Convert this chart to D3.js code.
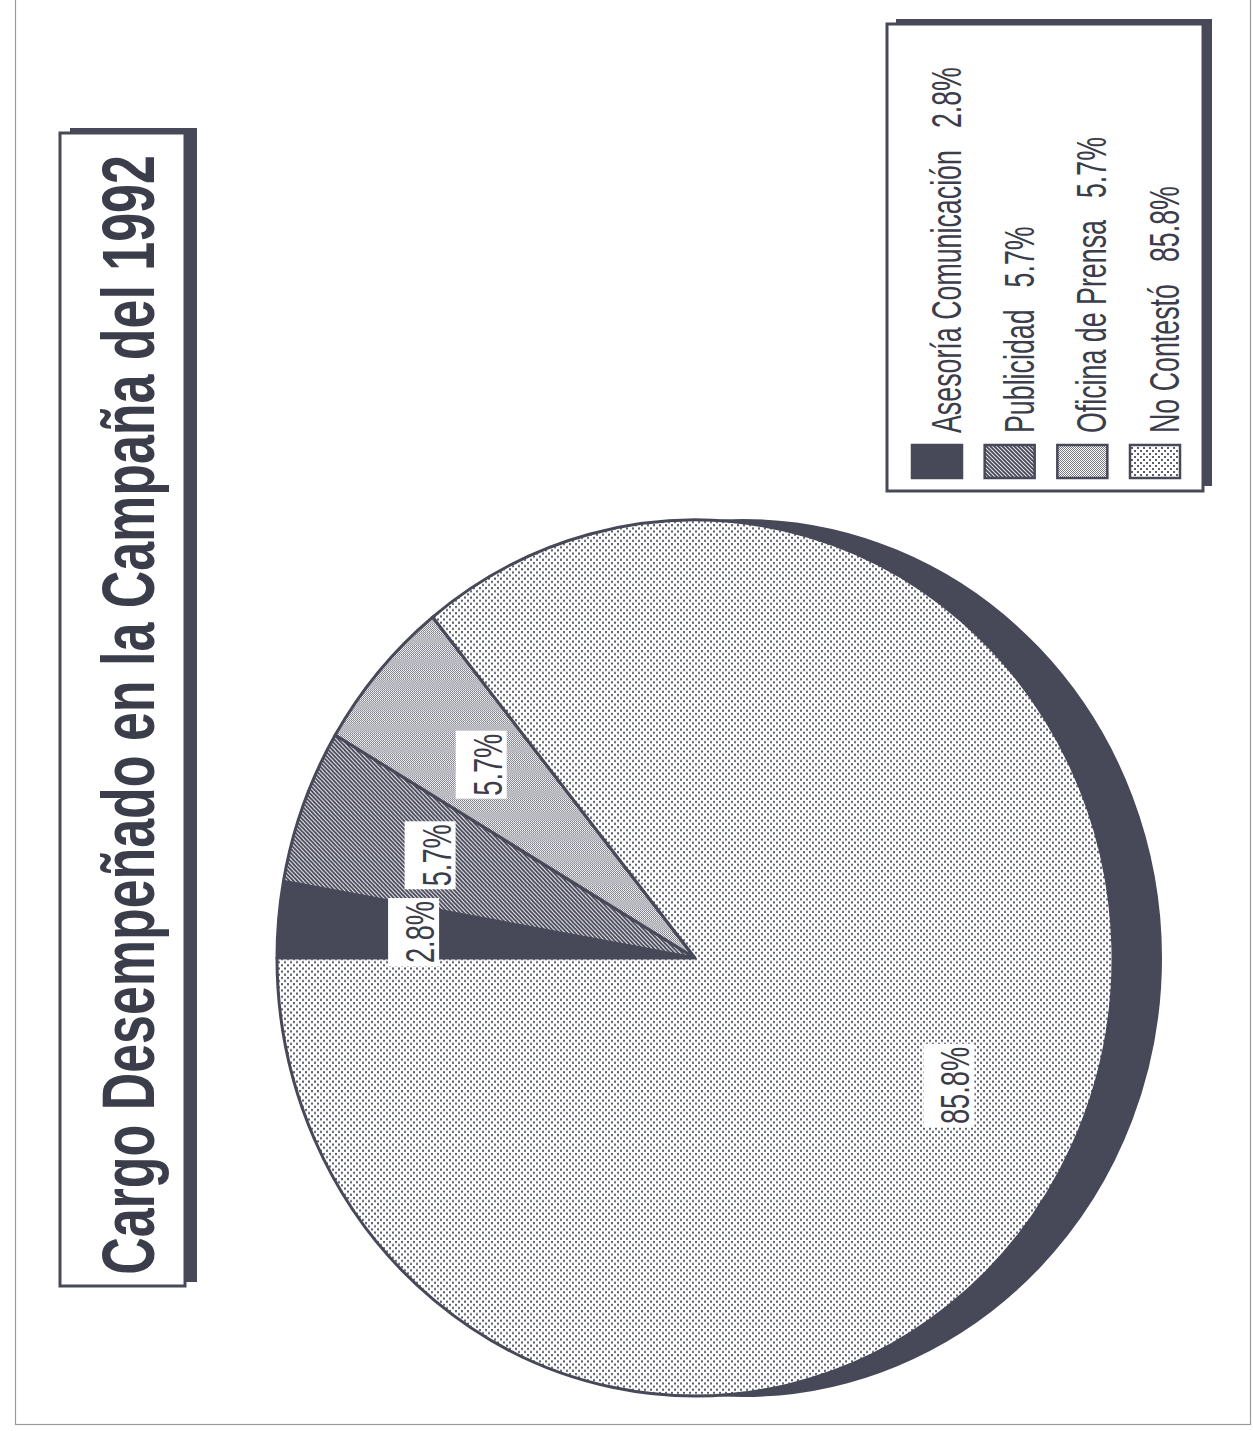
<!DOCTYPE html>
<html><head><meta charset="utf-8">
<script src="https://cdn.jsdelivr.net/npm/d3@7"></script>
<style>html,body{margin:0;padding:0;background:#fff;} svg{display:block;}</style>
</head><body>
<svg id="c" width="1253" height="1431"></svg>
<script>
const title = "Cargo Desempeñado en la Campaña del 1992";
const categories = ["Asesoría Comunicación", "Publicidad", "Oficina de Prensa", "No Contestó"];
const values = [2.8, 5.7, 5.7, 85.8];
const valueLabels = ["2.8%", "5.7%", "5.7%", "85.8%"];
const patternIds = ["pSolid", "pHatch", "pCheck", "pDots"];

const DARK = "#474858";
const TEXT = "#3c3d4a";
const FONT = "'Liberation Sans Narrow','Arial Narrow','Liberation Sans',Arial,sans-serif";

const svg = d3.select("#c");
const defs = svg.append("defs");

// patterns
const pSolid = defs.append("pattern").attr("id", "pSolid").attr("patternUnits", "userSpaceOnUse").attr("width", 4).attr("height", 4);
pSolid.append("rect").attr("width", 4).attr("height", 4).attr("fill", DARK);

const pHatch = defs.append("pattern").attr("id", "pHatch").attr("patternUnits", "userSpaceOnUse").attr("width", 4).attr("height", 4);
pHatch.append("rect").attr("width", 4).attr("height", 4).attr("fill", "#e4e4e8");
pHatch.append("path").attr("d", "M-1,3 L1,5 M0,0 L4,4 M3,-1 L5,1").attr("stroke", DARK).attr("stroke-width", 1.8);

const pCheck = defs.append("pattern").attr("id", "pCheck").attr("patternUnits", "userSpaceOnUse").attr("width", 2).attr("height", 2);
pCheck.append("rect").attr("width", 2).attr("height", 2).attr("fill", "#ffffff");
pCheck.append("rect").attr("x", 0).attr("y", 0).attr("width", 1).attr("height", 1).attr("fill", "#767684");
pCheck.append("rect").attr("x", 1).attr("y", 1).attr("width", 1).attr("height", 1).attr("fill", "#767684");

const pDots = defs.append("pattern").attr("id", "pDots").attr("patternUnits", "userSpaceOnUse").attr("width", 6).attr("height", 6);
pDots.append("rect").attr("width", 6).attr("height", 6).attr("fill", "#ffffff");
pDots.append("rect").attr("x", 0).attr("y", 0).attr("width", 2).attr("height", 2).attr("fill", "#5c5d6c");
pDots.append("rect").attr("x", 3).attr("y", 3).attr("width", 2).attr("height", 2).attr("fill", "#5c5d6c");

// page frame
svg.append("rect").attr("x", 15.5).attr("y", -10).attr("width", 1235).attr("height", 1434.5)
  .attr("fill", "none").attr("stroke", "#9a9a9a").attr("stroke-width", 1.2);

// ---- Title box (rotated) ----
svg.append("rect").attr("x", 70).attr("y", 128).attr("width", 127).attr("height", 1154).attr("fill", DARK);
svg.append("rect").attr("x", 60).attr("y", 133).attr("width", 125).attr("height", 1153)
  .attr("fill", "#fff").attr("stroke", DARK).attr("stroke-width", 3);
{
  const g = svg.append("g");
  const t = g.append("text").attr("x", 0).attr("y", 0).attr("text-anchor", "middle")
    .attr("font-family", FONT).attr("font-weight", "bold").attr("font-size", 74)
    .attr("fill", TEXT).text(title);
  const k = 1120 / t.node().getComputedTextLength();
  g.attr("transform", `translate(154,715) rotate(-90) scale(${k},1)`);
}

// ---- Pie ----
const cx = 695, cy = 958, rx = 418, ry = 438, depth = 48;
const ky = ry / rx;

// 3D depth shadow (extrusion to the right)
const shadow = svg.append("g");
shadow.append("ellipse").attr("cx", cx + depth).attr("cy", cy).attr("rx", rx).attr("ry", ry)
  .attr("fill", DARK).attr("stroke", DARK).attr("stroke-width", 2);
shadow.append("rect").attr("x", cx).attr("y", cy - ry).attr("width", depth).attr("height", 2 * ry).attr("fill", DARK);

const pie = d3.pie().sort(null).value(d => d).startAngle(-Math.PI / 2).endAngle(3 * Math.PI / 2);
const arcs = pie(values);
const arc = d3.arc().innerRadius(0).outerRadius(rx);
const labelArc = d3.arc().innerRadius(282).outerRadius(282);

const pg = svg.append("g").attr("transform", `translate(${cx},${cy}) scale(1,${ky})`);
pg.selectAll("path").data(arcs).join("path")
  .attr("d", arc)
  .attr("fill", (d, i) => `url(#${patternIds[i]})`)
  .attr("stroke", DARK).attr("stroke-width", 3).attr("stroke-linejoin", "round")
  .attr("vector-effect", "non-scaling-stroke");

// pie labels
const lg = svg.append("g").attr("transform", `translate(${cx},${cy})`);
const labelK = 0.68;
arcs.forEach((d, i) => {
  const [x, y] = labelArc.centroid(d);
  const g = lg.append("g").attr("transform", `translate(${x},${y * ky}) rotate(-90)`);
  const rect = g.append("rect");
  const tg = g.append("g").attr("transform", `scale(${labelK},1)`);
  const t = tg.append("text").attr("x", 0).attr("y", 20).attr("text-anchor", "middle")
    .attr("font-family", "'Liberation Sans',Arial,sans-serif").attr("font-size", 40)
    .attr("fill", TEXT).text(valueLabels[i]);
  const L = t.node().getComputedTextLength() * labelK;
  rect.attr("x", -L / 2 - 3).attr("y", -26).attr("width", L + 6).attr("height", 51).attr("fill", "#fff");
});

// ---- Legend ----
svg.append("rect").attr("x", 896).attr("y", 19).attr("width", 316).attr("height", 467).attr("fill", DARK);
svg.append("rect").attr("x", 887).attr("y", 24).attr("width", 316).attr("height", 467)
  .attr("fill", "#fff").attr("stroke", DARK).attr("stroke-width", 3);

const rowScale = d3.scalePoint().domain(categories).range([912, 1130]);
const swW = 50, swTop = 445, swH = 33, textStart = 433;

const leg = svg.append("g");
const probe = leg.append("text").attr("font-family", FONT).attr("font-size", 43).text(categories[0]);
const probeLen = probe.node().getComputedTextLength();
probe.remove();
const legK = 283 / probeLen;
const gap = 22;

categories.forEach((c, i) => {
  const X = rowScale(c);
  leg.append("rect").attr("x", X).attr("y", swTop).attr("width", swW).attr("height", swH)
    .attr("fill", `url(#${patternIds[i]})`).attr("stroke", DARK).attr("stroke-width", 2.5);
  const g = leg.append("g").attr("transform", `translate(${X + swW - 1},${textStart}) rotate(-90) scale(${legK},1)`);
  const t1 = g.append("text").attr("x", 0).attr("y", 0).attr("font-family", FONT).attr("font-size", 43)
    .attr("fill", TEXT).text(c);
  const w1 = t1.node().getComputedTextLength();
  g.append("text").attr("x", w1 + gap / legK).attr("y", 0).attr("font-family", FONT).attr("font-size", 43)
    .attr("fill", TEXT).text(valueLabels[i]);
});
</script>
</body></html>
